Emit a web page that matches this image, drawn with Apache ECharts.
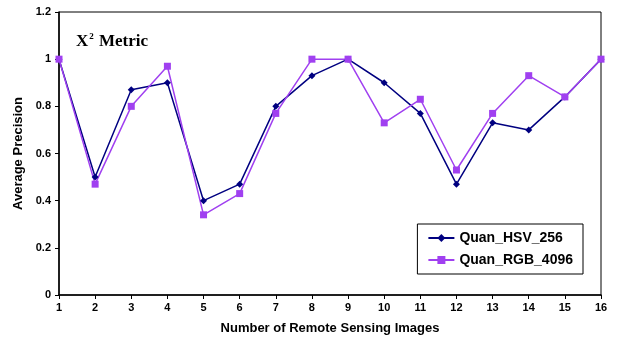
<!DOCTYPE html>
<html>
<head>
<meta charset="utf-8">
<script src="https://cdn.jsdelivr.net/npm/echarts@6/dist/echarts.min.js"></script>
<style>
  html, body { margin: 0; padding: 0; background: #fff; }
  #chart { width: 617px; height: 343px; }
</style>
</head>
<body>
<div id="chart"></div>
<script>
const images = ["1", "2", "3", "4", "5", "6", "7", "8", "9", "10", "11", "12", "13", "14", "15", "16"];
const quanHSV = [1, 0.5, 0.87, 0.9, 0.4, 0.47, 0.8, 0.93, 1, 0.9, 0.77, 0.47, 0.73, 0.7, 0.84, 1];
const quanRGB = [1, 0.47, 0.8, 0.97, 0.34, 0.43, 0.77, 1, 1, 0.73, 0.83, 0.53, 0.77, 0.93, 0.84, 1];

const font = "'Liberation Sans', Arial, sans-serif";
const serif = "'Liberation Serif', 'Times New Roman', serif";
const chart = echarts.init(document.getElementById("chart"));

chart.setOption({
  animation: false,
  backgroundColor: "#fff",
  textStyle: { fontFamily: font },
  title: {
    text: "{x|X}{sup|2}{x| Metric}",
    left: 71,
    top: 27,
    textStyle: {
      rich: {
        x: { fontFamily: serif, fontWeight: "bold", fontSize: 17, color: "#000", lineHeight: 20 },
        sup: { fontFamily: serif, fontWeight: "bold", fontSize: 9, color: "#000", lineHeight: 20, verticalAlign: "top", padding: [0, 1, 0, 1] }
      }
    }
  },
  legend: {
    orient: "vertical",
    right: 34,
    top: 224,
    borderColor: "#000",
    borderWidth: 1,
    borderRadius: 0,
    padding: [7, 10, 7, 10],
    itemGap: 8,
    itemWidth: 26,
    itemHeight: 10,
    textStyle: { fontFamily: font, fontWeight: "bold", fontSize: 14, color: "#000" },
    data: ["Quan_HSV_256", "Quan_RGB_4096"]
  },
  grid: { left: 59, right: 16, top: 12, bottom: 48, show: true, borderColor: "#000", borderWidth: 1 },
  xAxis: {
    type: "category",
    data: images,
    boundaryGap: false,
    name: "Number of Remote Sensing Images",
    nameLocation: "middle",
    nameGap: 27,
    nameTextStyle: { fontFamily: font, fontWeight: "bold", fontSize: 13, color: "#000" },
    axisLine: { lineStyle: { color: "#000", width: 1.5 } },
    axisTick: { alignWithLabel: true, length: 4, lineStyle: { color: "#000" } },
    axisLabel: { fontFamily: font, fontWeight: "bold", fontSize: 11, color: "#000", margin: 7 },
    splitLine: { show: false }
  },
  yAxis: {
    type: "value",
    min: 0,
    max: 1.2,
    interval: 0.2,
    name: "Average Precision",
    nameLocation: "middle",
    nameGap: 32,
    nameTextStyle: { fontFamily: font, fontWeight: "bold", fontSize: 13, color: "#000" },
    axisLine: { show: true, lineStyle: { color: "#000", width: 1.5 } },
    axisTick: { show: true, length: 4, lineStyle: { color: "#000" } },
    axisLabel: { fontFamily: font, fontWeight: "bold", fontSize: 11, color: "#000", margin: 8 },
    splitLine: { show: false }
  },
  series: [
    {
      name: "Quan_HSV_256",
      type: "line",
      data: quanHSV,
      symbol: "diamond",
      symbolSize: 7,
      color: "#000080",
      lineStyle: { width: 1.5, color: "#000080" },
      itemStyle: { color: "#000080" }
    },
    {
      name: "Quan_RGB_4096",
      type: "line",
      data: quanRGB,
      symbol: "rect",
      symbolSize: 7,
      color: "#A040F0",
      lineStyle: { width: 1.5, color: "#A040F0" },
      itemStyle: { color: "#A040F0" }
    }
  ]
});
</script>
</body>
</html>
